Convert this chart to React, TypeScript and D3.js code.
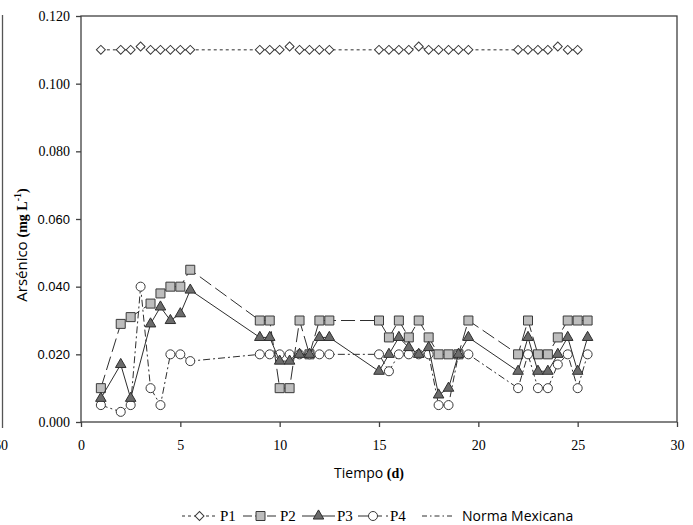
import React, { useEffect, useRef } from "react";
import * as d3 from "d3";

// ---- data ----
const P1_DAYS = [1, 2, 2.5, 3, 3.5, 4, 4.5, 5, 5.5, 9, 9.5, 10, 10.5, 11, 11.5, 12, 12.5, 15, 15.5, 16, 16.5, 17, 17.5, 18, 18.5, 19, 19.5, 22, 22.5, 23, 23.5, 24, 24.5, 25];
const P1_VALUES = [0.110, 0.110, 0.110, 0.111, 0.110, 0.110, 0.110, 0.110, 0.110, 0.110, 0.110, 0.110, 0.111, 0.110, 0.110, 0.110, 0.110, 0.110, 0.110, 0.110, 0.110, 0.111, 0.110, 0.110, 0.110, 0.110, 0.110, 0.110, 0.110, 0.110, 0.110, 0.111, 0.110, 0.110];

const P2_DAYS = [1, 2, 2.5, 3.5, 4, 4.5, 5, 5.5, 9, 9.5, 10, 10.5, 11, 11.5, 12, 12.5, 15, 15.5, 16, 16.5, 17, 17.5, 18, 18.5, 19, 19.5, 22, 22.5, 23, 23.5, 24, 24.5, 25, 25.5];
const P2_VALUES = [0.010, 0.029, 0.031, 0.035, 0.038, 0.040, 0.040, 0.045, 0.030, 0.030, 0.010, 0.010, 0.030, 0.020, 0.030, 0.030, 0.030, 0.025, 0.030, 0.025, 0.030, 0.025, 0.020, 0.020, 0.020, 0.030, 0.020, 0.030, 0.020, 0.020, 0.025, 0.030, 0.030, 0.030];

const P3_DAYS = [1, 2, 2.5, 3.5, 4, 4.5, 5, 5.5, 9, 9.5, 10, 10.5, 11, 11.5, 12, 12.5, 15, 15.5, 16, 16.5, 17, 17.5, 18, 18.5, 19, 19.5, 22, 22.5, 23, 23.5, 24, 24.5, 25, 25.5];
const P3_VALUES = [0.007, 0.017, 0.007, 0.029, 0.034, 0.030, 0.032, 0.039, 0.025, 0.025, 0.018, 0.018, 0.020, 0.020, 0.025, 0.025, 0.015, 0.020, 0.025, 0.022, 0.020, 0.022, 0.008, 0.010, 0.020, 0.025, 0.015, 0.025, 0.015, 0.015, 0.020, 0.025, 0.015, 0.025];

const P4_DAYS = [1, 2, 2.5, 3, 3.5, 4, 4.5, 5, 5.5, 9, 9.5, 10, 10.5, 11, 11.5, 12, 12.5, 15, 15.5, 16, 16.5, 17, 17.5, 18, 18.5, 19, 19.5, 22, 22.5, 23, 23.5, 24, 24.5, 25, 25.5];
const P4_VALUES = [0.005, 0.003, 0.005, 0.040, 0.010, 0.005, 0.020, 0.020, 0.018, 0.020, 0.020, 0.020, 0.020, 0.020, 0.020, 0.020, 0.020, 0.020, 0.015, 0.020, 0.020, 0.020, 0.020, 0.005, 0.005, 0.020, 0.020, 0.010, 0.020, 0.010, 0.010, 0.017, 0.020, 0.010, 0.020];

const X_TICKS = [0, 5, 10, 15, 20, 25, 30];
const Y_TICKS = [0, 0.02, 0.04, 0.06, 0.08, 0.1, 0.12];
const SANS_Y_TICKS = [0.02, 0.04, 0.06];

const SERIES_NAMES = ["P1", "P2", "P3", "P4"];
const NORMA_LABEL = "Norma Mexicana";

const SERIF = "'Liberation Serif', 'Times New Roman', serif";
const SANS = "'Open Sans', 'DejaVu Sans', sans-serif";
const ARIAL = "'Liberation Sans', Arial, sans-serif";

type Style = {
  dash: string;
  symbol: d3.SymbolType;
  size: number;
  rotate: number;
  fill: string;
  stroke: string;
};

const STYLES: Record<string, Style> = {
  P1: { dash: "3,3", symbol: d3.symbolSquare, size: 40, rotate: 45, fill: "#ffffff", stroke: "#3a3a3a" },
  P2: { dash: "14,5", symbol: d3.symbolSquare, size: 81, rotate: 0, fill: "#bdbdbd", stroke: "#3a3a3a" },
  P3: { dash: "none", symbol: d3.symbolTriangle, size: 48, rotate: 0, fill: "#6b6b6b", stroke: "#2e2e2e" },
  P4: { dash: "7,3,2,3", symbol: d3.symbolCircle, size: 64, rotate: 0, fill: "#ffffff", stroke: "#3a3a3a" },
};

export default function App() {
  const x = d3.scaleLinear().domain([0, 30]).range([81, 677]);
  const y = d3.scaleLinear().domain([0, 0.12]).range([422, 16]);
  const xAxisRef = useRef<SVGGElement>(null);
  const yAxisRef = useRef<SVGGElement>(null);

  useEffect(() => {
    const gx = d3.select(xAxisRef.current as SVGGElement);
    gx.call(d3.axisBottom(x).tickValues(X_TICKS).tickSize(5).tickSizeOuter(0).tickPadding(13).tickFormat(d3.format("d")) as any);
    gx.select(".domain").remove();
    gx.selectAll(".tick line").attr("stroke", "#404040").attr("stroke-width", 1.3);
    gx.selectAll(".tick text").attr("font-family", SERIF).attr("font-size", 14).attr("fill", "#000");

    const gy = d3.select(yAxisRef.current as SVGGElement);
    gy.call(d3.axisLeft(y).tickValues(Y_TICKS).tickSize(5).tickSizeOuter(0).tickPadding(6).tickFormat(d3.format(".3f")) as any);
    gy.select(".domain").remove();
    gy.selectAll(".tick line").attr("stroke", "#404040").attr("stroke-width", 1.3);
    gy.selectAll<SVGTextElement, number>(".tick text")
      .attr("font-family", (d) => (SANS_Y_TICKS.some((v) => Math.abs(v - d) < 1e-9) ? ARIAL : SERIF))
      .attr("font-size", (d) => (SANS_Y_TICKS.some((v) => Math.abs(v - d) < 1e-9) ? 13 : 14))
      .attr("fill", "#000");
  }, []);

  const data: Record<string, [number, number][]> = {
    P1: P1_DAYS.map((d, i) => [d, P1_VALUES[i]]),
    P2: P2_DAYS.map((d, i) => [d, P2_VALUES[i]]),
    P3: P3_DAYS.map((d, i) => [d, P3_VALUES[i]]),
    P4: P4_DAYS.map((d, i) => [d, P4_VALUES[i]]),
  };

  const line = d3
    .line<[number, number]>()
    .x((d) => x(d[0]))
    .y((d) => y(d[1]));

  const sym = (s: Style) => d3.symbol().type(s.symbol).size(s.size)() as string;

  const drawOrder = ["P1", "P2", "P4", "P3"];

  // legend layout
  const legendY = 516;
  const legendItems = [
    { name: "P1", x0: 182, x1: 217, tx: 220 },
    { name: "P2", x0: 243, x1: 278, tx: 280 },
    { name: "P3", x0: 302, x1: 335, tx: 337 },
    { name: "P4", x0: 358, x1: 388, tx: 390 },
  ];

  return (
    <svg
      width={693}
      height={525}
      style={{ position: "absolute", left: 0, top: 0, background: "#fff" }}
    >
      <rect x={0} y={0} width={693} height={525} fill="#fff" />
      {/* remnant of neighbouring chart */}
      <line x1={2.5} y1={15} x2={2.5} y2={428} stroke="#555" strokeWidth={1.3} />
      <text x={8} y={450} textAnchor="end" fontFamily={SERIF} fontSize={14}>60</text>

      {/* frame */}
      <rect x={81} y={16} width={596} height={406} fill="none" stroke="#404040" strokeWidth={1.3} />
      <g ref={xAxisRef} transform="translate(0,422)" />
      <g ref={yAxisRef} transform="translate(81,0)" />

      {/* series */}
      {drawOrder.map((name) => {
        const s = STYLES[name];
        const path = sym(s);
        return (
          <g key={name}>
            <path
              d={line(data[name]) as string}
              fill="none"
              stroke="#2e2e2e"
              strokeWidth={1}
              strokeDasharray={s.dash}
            />
            {data[name].map((d, i) => (
              <path
                key={i}
                d={path}
                transform={`translate(${x(d[0])},${y(d[1])}) rotate(${s.rotate})`}
                fill={s.fill}
                stroke={s.stroke}
                strokeWidth={1}
              />
            ))}
          </g>
        );
      })}

      {/* y title */}
      <text
        transform="translate(27,245) rotate(-90)"
        textAnchor="middle"
        fontSize={15}
        fill="#000"
      >
        <tspan fontFamily={SANS}>Arsénico </tspan>
        <tspan fontFamily={SERIF} fontWeight="bold" fontSize={14}> (mg L</tspan>
        <tspan fontFamily={SERIF} fontWeight="bold" fontSize={10} dy={-6}>-1</tspan>
        <tspan fontFamily={SERIF} fontWeight="bold" fontSize={14} dy={6}>)</tspan>
      </text>

      {/* x title */}
      <text x={369} y={478} textAnchor="middle" fontSize={14} fill="#000">
        <tspan fontFamily={SANS}>Tiempo </tspan>
        <tspan fontFamily={SERIF} fontWeight="bold">(d)</tspan>
      </text>

      {/* legend */}
      {legendItems.map((it) => {
        const s = STYLES[it.name];
        return (
          <g key={it.name}>
            <line
              x1={it.x0}
              x2={it.x1}
              y1={legendY}
              y2={legendY}
              stroke="#2e2e2e"
              strokeWidth={1}
              strokeDasharray={it.name === "P2" ? "9,3" : it.name === "P4" ? "10,4" : s.dash}
            />
            <path
              d={sym(s)}
              transform={`translate(${(it.x0 + it.x1) / 2},${legendY}) rotate(${s.rotate})`}
              fill={s.fill}
              stroke={s.stroke}
              strokeWidth={1}
            />
            <text x={it.tx} y={521} fontFamily={SERIF} fontSize={15} fill="#000">
              {SERIES_NAMES[SERIES_NAMES.indexOf(it.name)]}
            </text>
          </g>
        );
      })}
      <line x1={422} x2={453} y1={legendY} y2={legendY} stroke="#2e2e2e" strokeWidth={1} strokeDasharray="5,3,1.5,3" />
      <text x={462} y={521} fontFamily={SANS} fontSize={14} fill="#000">{NORMA_LABEL}</text>
    </svg>
  );
}
